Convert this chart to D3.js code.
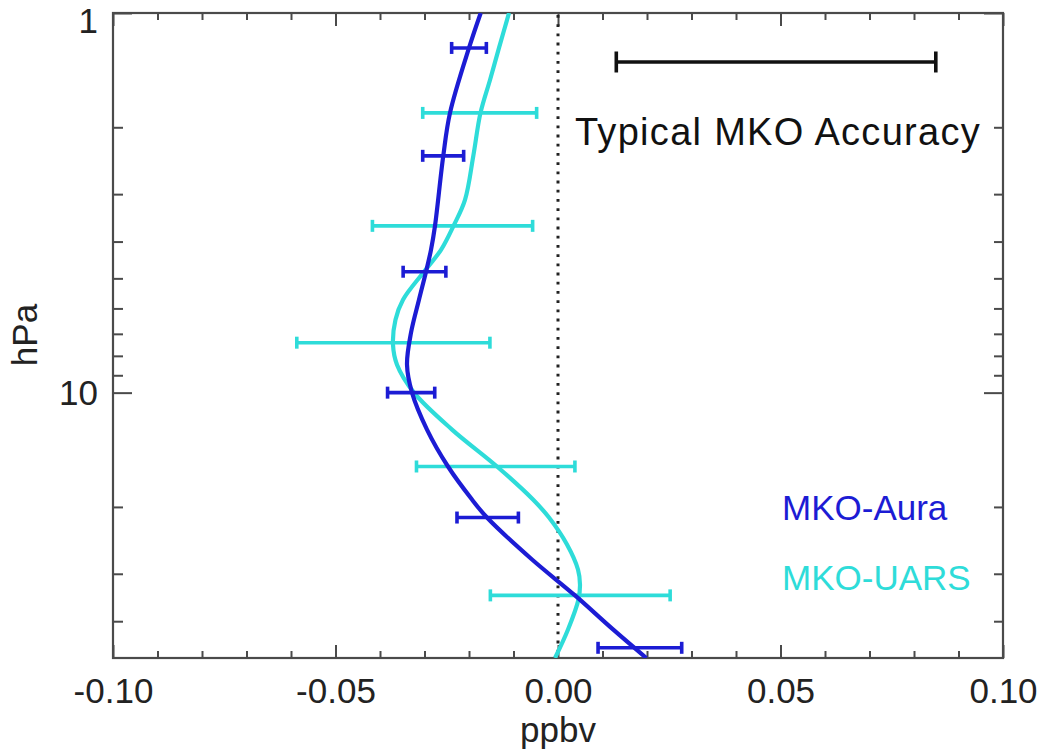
<!DOCTYPE html>
<html>
<head>
<meta charset="utf-8">
<script src="https://cdn.jsdelivr.net/npm/d3@7"></script>
<style>
  body { margin: 0; background: #fff; }
  text { font-family: "Liberation Sans", Arial, Helvetica, sans-serif; }
</style>
</head>
<body>
<svg id="chart" width="1044" height="751"></svg>
<script>
// MKO-Aura differences: error-bar levels (hPa), mean difference and half-width (ppbv)
const auraBarP   = [1.236, 2.378, 4.803, 10.0, 21.33, 47.0];
const auraBarX   = [-0.0200, -0.0258, -0.0300, -0.0330, -0.0158, 0.0184];
const auraBarErr = [0.0039, 0.0046, 0.0048, 0.0053, 0.0069, 0.0094];

// MKO-UARS differences
const uarsBarP   = [1.833, 3.636, 7.386, 15.65, 34.2];
const uarsBarX   = [-0.0176, -0.0237, -0.0370, -0.0140, 0.0050];
const uarsBarErr = [0.0128, 0.0180, 0.0217, 0.0178, 0.0202];

// Smoothed difference profiles (pressure in hPa, difference in ppbv)
const auraCurveP = [1.0, 1.236, 1.833, 2.378, 3.636, 4.205, 4.803, 5.692, 6.952, 8.439, 10.0, 12.51, 15.65, 19.12, 21.33, 27.51, 34.21, 42.05, 50.0];
const auraCurveX = [-0.01737, -0.0200, -0.02427, -0.02578, -0.02764, -0.02854, -0.02966, -0.03124, -0.03303, -0.03393, -0.03281, -0.02944, -0.02472, -0.01933, -0.01596, -0.00584, 0.00382, 0.01236, 0.01985];

const uarsCurveP = [1.0, 1.236, 1.501, 1.833, 2.378, 3.105, 3.636, 4.205, 4.803, 5.692, 6.427, 7.476, 8.439, 10.0, 12.51, 15.65, 19.12, 21.33, 25.12, 29.23, 32.01, 35.05, 42.05, 50.0];
const uarsCurveX = [-0.01101, -0.01326, -0.01528, -0.01742, -0.01903, -0.0209, -0.02348, -0.02629, -0.03011, -0.03483, -0.03652, -0.03708, -0.03618, -0.03236, -0.02382, -0.01371, -0.00562, -0.00202, 0.00202, 0.00449, 0.00494, 0.0046, 0.00225, -0.00067];

// Typical MKO accuracy bar
const accuracyP = 1.346;
const accuracyX = 0.049;
const accuracyErr = 0.0359;

// Axis ticks
const xMajorTicks = [-0.10, -0.05, 0.00, 0.05, 0.10];
const xMinorTicks = d3.range(-10, 11).filter(d => d % 5 !== 0).map(d => d / 100);
const yMajorTicks = [1, 10];
const yMinorTicks = [2, 3, 4, 5, 6, 7, 8, 9, 20, 30, 40];

const auraColor = "#1c1cd4";
const uarsColor = "#2edcd9";
const frameColor = "#4a4a4a";

const svg = d3.select("#chart");
const plotLeft = 113, plotRight = 1003, plotTop = 13, plotBottom = 658;

const x = d3.scaleLinear().domain([-0.10, 0.10]).range([plotLeft, plotRight]);
const y = d3.scaleLog().domain([1, 50]).range([plotTop, plotBottom]);

svg.append("defs").append("clipPath").attr("id", "plotclip")
  .append("rect").attr("x", plotLeft).attr("y", plotTop)
  .attr("width", plotRight - plotLeft).attr("height", plotBottom - plotTop);

// Plain hyphen-minus for negative tick labels
const fmtX = d => d3.format(".2f")(d).replace("\u2212", "-");

// Bottom axis: major ticks with labels, minor ticks
const gxb = svg.append("g").attr("transform", `translate(0,${plotBottom})`)
  .call(d3.axisBottom(x).tickValues(xMajorTicks).tickSize(-13).tickPadding(20)
    .tickFormat(fmtX));
svg.append("g").attr("transform", `translate(0,${plotBottom})`)
  .call(d3.axisBottom(x).tickValues(xMinorTicks).tickSize(-7).tickFormat(""));
// Top axis
svg.append("g").attr("transform", `translate(0,${plotTop})`)
  .call(d3.axisTop(x).tickValues(xMajorTicks).tickSize(-13).tickFormat(""));
svg.append("g").attr("transform", `translate(0,${plotTop})`)
  .call(d3.axisTop(x).tickValues(xMinorTicks).tickSize(-7).tickFormat(""));
// Left axis
const gyl = svg.append("g").attr("transform", `translate(${plotLeft},0)`)
  .call(d3.axisLeft(y).tickValues(yMajorTicks).tickSize(-19).tickPadding(15)
    .tickFormat(d3.format("d")));
svg.append("g").attr("transform", `translate(${plotLeft},0)`)
  .call(d3.axisLeft(y).tickValues(yMinorTicks).tickSize(-10).tickFormat(""));
// Right axis
svg.append("g").attr("transform", `translate(${plotRight},0)`)
  .call(d3.axisRight(y).tickValues(yMajorTicks).tickSize(-19).tickFormat(""));
svg.append("g").attr("transform", `translate(${plotRight},0)`)
  .call(d3.axisRight(y).tickValues(yMinorTicks).tickSize(-9).tickFormat(""));

svg.selectAll(".domain").remove();
svg.selectAll(".tick line").attr("stroke", frameColor).attr("stroke-width", 2);
svg.selectAll(".tick text").attr("fill", "#222").style("font-size", "35px")
  .style("font-family", "'Liberation Sans', Arial, sans-serif");
gxb.selectAll(".tick text").attr("dy", "0.71em");
// The top label sits just below the frame corner
gyl.selectAll(".tick text").attr("dy", d => d === 1 ? "0.57em" : "0.34em");

// Frame
svg.append("rect").attr("x", plotLeft).attr("y", plotTop)
  .attr("width", plotRight - plotLeft).attr("height", plotBottom - plotTop)
  .attr("fill", "none").attr("stroke", frameColor).attr("stroke-width", 2.2);

// Axis titles
svg.append("text").attr("x", x(0)).attr("y", 742).attr("text-anchor", "middle")
  .attr("fill", "#222").style("font-size", "35px").text("ppbv");
svg.append("text").attr("transform", "translate(37,335) rotate(-90)")
  .attr("text-anchor", "middle").attr("fill", "#222").style("font-size", "35px").text("hPa");

// Zero reference line
svg.append("line").attr("x1", x(0)).attr("x2", x(0)).attr("y1", plotTop + 2).attr("y2", plotBottom)
  .attr("stroke", "#222").attr("stroke-width", 3).attr("stroke-dasharray", "2.8,6.4");

const plot = svg.append("g").attr("clip-path", "url(#plotclip)");

const line = d3.line().x(d => x(d[1])).y(d => y(d[0])).curve(d3.curveCatmullRom.alpha(0.5));

function errorBars(g, ps, xs, errs, color) {
  const data = ps.map((p, i) => ({ p, v: xs[i], e: errs[i] }));
  const cap = 6;
  const bars = g.append("g").attr("stroke", color).attr("stroke-width", 3.6).attr("fill", "none");
  bars.selectAll("line.h").data(data).join("line").attr("class", "h")
    .attr("x1", d => x(d.v - d.e)).attr("x2", d => x(d.v + d.e))
    .attr("y1", d => y(d.p)).attr("y2", d => y(d.p));
  bars.selectAll("line.l").data(data).join("line").attr("class", "l")
    .attr("x1", d => x(d.v - d.e)).attr("x2", d => x(d.v - d.e))
    .attr("y1", d => y(d.p) - cap).attr("y2", d => y(d.p) + cap);
  bars.selectAll("line.r").data(data).join("line").attr("class", "r")
    .attr("x1", d => x(d.v + d.e)).attr("x2", d => x(d.v + d.e))
    .attr("y1", d => y(d.p) - cap).attr("y2", d => y(d.p) + cap);
}

// MKO-UARS profile
plot.append("path").datum(uarsCurveP.map((p, i) => [p, uarsCurveX[i]]))
  .attr("d", line).attr("fill", "none").attr("stroke", uarsColor).attr("stroke-width", 4.2);
errorBars(plot, uarsBarP, uarsBarX, uarsBarErr, uarsColor);

// MKO-Aura profile
plot.append("path").datum(auraCurveP.map((p, i) => [p, auraCurveX[i]]))
  .attr("d", line).attr("fill", "none").attr("stroke", auraColor).attr("stroke-width", 4.2);
errorBars(plot, auraBarP, auraBarX, auraBarErr, auraColor);

// Typical accuracy bar
const acc = svg.append("g").attr("stroke", "#111").attr("stroke-width", 3.6);
acc.append("line").attr("x1", x(accuracyX - accuracyErr)).attr("x2", x(accuracyX + accuracyErr))
  .attr("y1", y(accuracyP)).attr("y2", y(accuracyP));
[accuracyX - accuracyErr, accuracyX + accuracyErr].forEach(v => {
  acc.append("line").attr("x1", x(v)).attr("x2", x(v))
    .attr("y1", y(accuracyP) - 10.5).attr("y2", y(accuracyP) + 10.5);
});
svg.append("text").attr("x", 778).attr("y", 145).attr("text-anchor", "middle")
  .attr("fill", "#111").style("font-size", "38px").style("letter-spacing", "1.3px")
  .text("Typical MKO Accuracy");

// Legend
svg.append("text").attr("x", 782).attr("y", 520).attr("fill", auraColor)
  .style("font-size", "35px").text("MKO-Aura");
svg.append("text").attr("x", 782).attr("y", 590).attr("fill", uarsColor)
  .style("font-size", "35px").text("MKO-UARS");
</script>
</body>
</html>
